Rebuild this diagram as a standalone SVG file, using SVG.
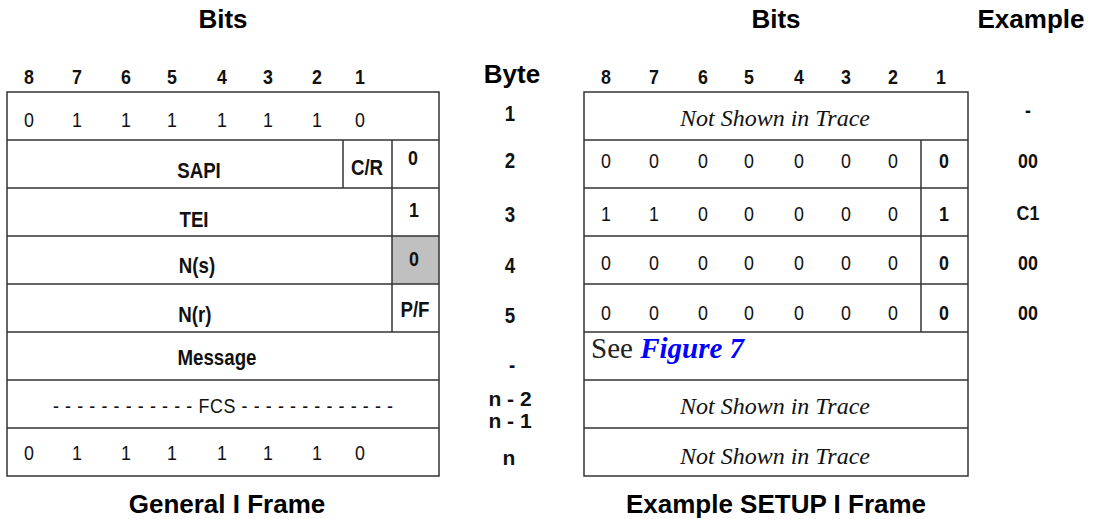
<svg xmlns="http://www.w3.org/2000/svg" width="1095" height="519" viewBox="0 0 1095 519">
<style>
.title{font-family:"Liberation Sans",Arial,sans-serif;font-weight:bold;font-size:26px;fill:#000;text-anchor:middle}
.hb{font-family:"Liberation Sans",Arial,sans-serif;font-weight:bold;font-size:21px;fill:#111;text-anchor:middle}
.lb{font-family:"Liberation Sans",Arial,sans-serif;font-weight:bold;font-size:22px;fill:#111;text-anchor:middle}
.dg{font-family:"Liberation Sans",Arial,sans-serif;font-size:21px;fill:#111;text-anchor:middle}
.it{font-family:"Liberation Serif","Times New Roman",serif;font-style:italic;font-size:24px;fill:#111;text-anchor:middle}
.ln{stroke:#333;stroke-width:1.5;fill:none}
</style>
<rect width="1095" height="519" fill="#fff"/>

<g id="titles">
<text class="title" x="223" y="28">Bits</text>
<text class="title" x="776" y="28">Bits</text>
<text class="title" x="1031" y="28">Example</text>
<text class="title" x="512" y="83">Byte</text>
<text class="title" x="227" y="513">General I Frame</text>
<text class="title" x="776" y="513">Example SETUP I Frame</text>
</g>

<g id="general-frame">
<rect x="392" y="236" width="47" height="48" fill="#c0c0c0"/>
<rect class="ln" x="7" y="92" width="432" height="384"/>
<path class="ln" d="M7 140H439M7 188H439M7 236H439M7 284H439M7 332H439M7 380H439M7 428H439M343 140V188M392 140V332"/>
<g transform="scale(0.85 1)">
<g class="hb">
<text x="34.12" y="84">8</text><text x="90.59" y="84">7</text><text x="148.24" y="84">6</text><text x="202.35" y="84">5</text><text x="261.18" y="84">4</text><text x="315.29" y="84">3</text><text x="372.94" y="84">2</text><text x="423.53" y="84">1</text>
<text x="485.88" y="165">0</text>
<text x="487.06" y="217">1</text>
<text x="487.06" y="266">0</text>
</g>
<g class="lb">
<text x="234.12" y="178">SAPI</text><text x="431.76" y="175">C/R</text>
<text x="228.24" y="227">TEI</text>
<text x="231.76" y="273">N(s)</text>
<text x="229.41" y="322">N(r)</text><text x="488.24" y="317">P/F</text>
<text x="255.29" y="365">Message</text>
</g>
<g class="dg">
<text x="34.12" y="127">0</text><text x="90.59" y="127">1</text><text x="148.24" y="127">1</text><text x="202.35" y="127">1</text><text x="261.18" y="127">1</text><text x="315.29" y="127">1</text><text x="372.94" y="127">1</text><text x="423.53" y="127">0</text>
<text x="262.35" y="413" textLength="400" lengthAdjust="spacing">- - - - - - - - - - - - FCS - - - - - - - - - - - - -</text>
<text x="34.12" y="460">0</text><text x="90.59" y="460">1</text><text x="148.24" y="460">1</text><text x="202.35" y="460">1</text><text x="261.18" y="460">1</text><text x="315.29" y="460">1</text><text x="372.94" y="460">1</text><text x="423.53" y="460">0</text>
</g>
</g>
</g>

<g id="byte-column">
<g class="lb" transform="scale(0.85 1)">
<text x="600" y="121">1</text>
<text x="600" y="168">2</text>
<text x="600" y="222">3</text>
<text x="600" y="273">4</text>
<text x="600" y="323">5</text>
<text x="602.35" y="372">-</text>
</g>
<g class="hb">
<text x="510" y="406">n - 2</text>
<text x="510" y="428">n - 1</text>
<text x="509" y="465">n</text>
</g>
</g>

<g id="setup-frame">
<rect class="ln" x="584" y="92" width="384" height="384"/>
<path class="ln" d="M584 140H968M584 188H968M584 236H968M584 284H968M584 332H968M584 380H968M584 428H968M921 140V332"/>
<g transform="scale(0.85 1)">
<g class="hb">
<text x="712.94" y="84">8</text><text x="769.41" y="84">7</text><text x="827.06" y="84">6</text><text x="881.18" y="84">5</text><text x="940" y="84">4</text><text x="995.29" y="84">3</text><text x="1050.59" y="84">2</text><text x="1107.06" y="84">1</text>
<text x="1110.59" y="168">0</text>
<text x="1110.59" y="221">1</text>
<text x="1110.59" y="270">0</text>
<text x="1110.59" y="320">0</text>
</g>
<g class="dg">
<text x="712.94" y="168">0</text><text x="769.41" y="168">0</text><text x="827.06" y="168">0</text><text x="881.18" y="168">0</text><text x="940" y="168">0</text><text x="995.29" y="168">0</text><text x="1050.59" y="168">0</text>
<text x="712.94" y="221">1</text><text x="769.41" y="221">1</text><text x="827.06" y="221">0</text><text x="881.18" y="221">0</text><text x="940" y="221">0</text><text x="995.29" y="221">0</text><text x="1050.59" y="221">0</text>
<text x="712.94" y="270">0</text><text x="769.41" y="270">0</text><text x="827.06" y="270">0</text><text x="881.18" y="270">0</text><text x="940" y="270">0</text><text x="995.29" y="270">0</text><text x="1050.59" y="270">0</text>
<text x="712.94" y="320">0</text><text x="769.41" y="320">0</text><text x="827.06" y="320">0</text><text x="881.18" y="320">0</text><text x="940" y="320">0</text><text x="995.29" y="320">0</text><text x="1050.59" y="320">0</text>
</g>
</g>
<text class="it" x="775" y="126">Not Shown in Trace</text>
<text class="it" x="775" y="414">Not Shown in Trace</text>
<text class="it" x="775" y="464">Not Shown in Trace</text>
<text x="591" y="358" font-family="Liberation Serif,'Times New Roman',serif" font-size="29" fill="#222">See <tspan font-weight="bold" font-style="italic" fill="#0000ff">Figure 7</tspan></text>
</g>

<g id="example-column" class="hb" transform="scale(0.85 1)">
<text x="1209.41" y="117">-</text>
<text x="1209.41" y="168">00</text>
<text x="1209.41" y="220">C1</text>
<text x="1209.41" y="270">00</text>
<text x="1209.41" y="320">00</text>
</g>
</svg>
